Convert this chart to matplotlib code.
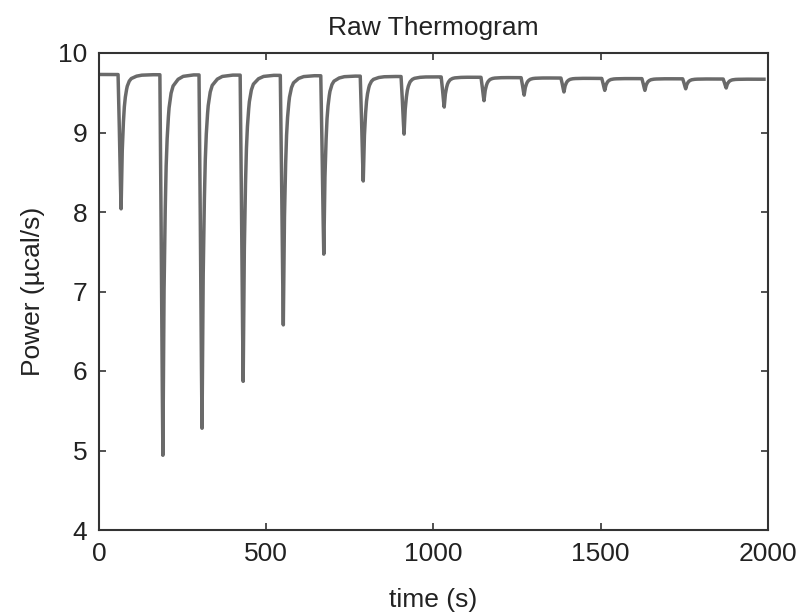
import numpy as np
import matplotlib
matplotlib.use("Agg")
import matplotlib.pyplot as plt

# ---- data ----
# time of each injection peak minimum (s)
peak_times = [66, 191, 308, 431, 551, 672, 790, 912, 1032, 1151, 1271, 1390, 1512, 1632, 1754, 1875]
# minimum power at each peak (ucal/s)
peak_minima = [8.04, 4.94, 5.28, 5.87, 6.58, 7.47, 8.39, 8.98, 9.32, 9.40, 9.47, 9.51, 9.53, 9.53, 9.55, 9.56]
# baseline power (time, value)
baseline_times = [0, 500, 1000, 1500, 1988]
baseline_values = [9.73, 9.72, 9.70, 9.68, 9.67]
# normalized peak shape read from the peaks (time relative to minimum, fraction of depth)
shape_dt = [-9, -6, -3, 0, 3, 6, 9, 12, 15, 18, 24, 30, 45, 60, 90]
shape_frac = [0.0, 0.3, 0.7, 1.0, 0.6, 0.4, 0.26, 0.18, 0.13, 0.09, 0.05, 0.03, 0.012, 0.004, 0.0]

t_end = 1988

xticks = [0, 500, 1000, 1500, 2000]
yticks = [4, 5, 6, 7, 8, 9, 10]

# ---- build the curve ----
t = np.arange(0, t_end + 0.25, 0.25)
base = np.interp(t, baseline_times, baseline_values)
power = base.copy()
for tp, pm in zip(peak_times, peak_minima):
    depth = np.interp(tp, baseline_times, baseline_values) - pm
    power -= depth * np.interp(t - tp, shape_dt, shape_frac, left=0.0, right=0.0)

# ---- plot ----
plt.rcParams['font.family'] = ['Liberation Sans', 'DejaVu Sans']
fig = plt.figure(figsize=(8.04, 6.16), dpi=100)
ax = fig.add_axes([99 / 804, 1 - 530 / 616, (768 - 99) / 804, (530 - 53) / 616])

ax.plot(t, power, color='#6a6a6a', lw=2.5, solid_joinstyle='round')

ax.set_xlim(0, 2000)
ax.set_ylim(4, 10)
ax.set_xticks(xticks)
ax.set_yticks(yticks)
ax.tick_params(direction='in', length=5, width=1.2, color='#333333',
               top=True, right=True, labelsize=19, pad=8.5, labelcolor='#222222')
for s in ax.spines.values():
    s.set_color('#333333')
    s.set_linewidth(1.5)

ax.set_title('Raw Thermogram', fontsize=19, pad=13, color='#222222')
ax.set_xlabel('time (s)', fontsize=19, labelpad=16, color='#222222')
ax.set_ylabel('Power (\u00b5cal/s)', fontsize=19, labelpad=9, color='#222222')

fig.savefig('out.png', dpi=100, facecolor='white')
